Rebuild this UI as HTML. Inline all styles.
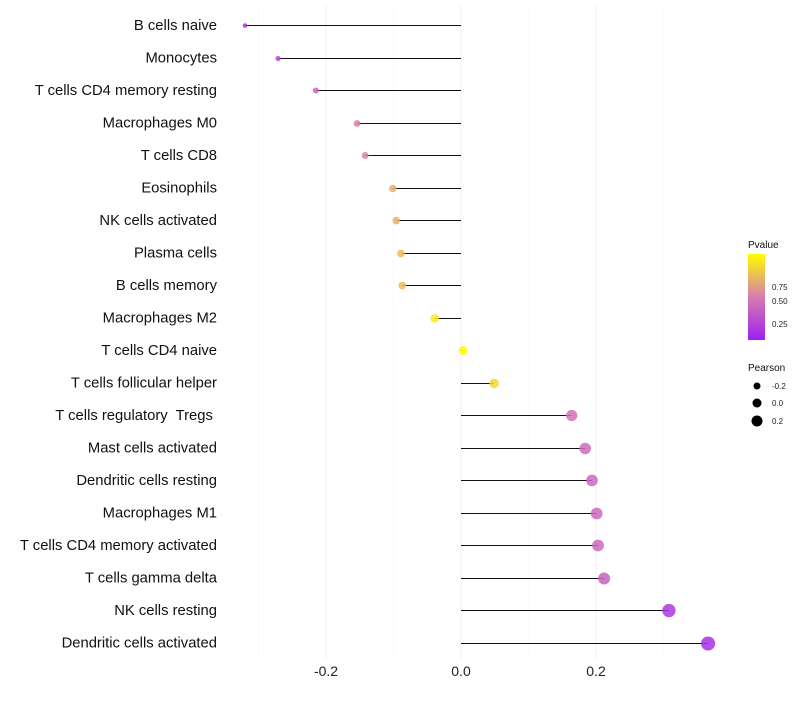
<!DOCTYPE html>
<html><head><meta charset="utf-8"><style>
body{margin:0;background:#fff;font-family:"Liberation Sans",sans-serif}
text{white-space:pre}
</style></head><body>
<svg id="chart" width="800" height="700" xmlns="http://www.w3.org/2000/svg"></svg>
<script>
const categories=["B cells naive","Monocytes","T cells CD4 memory resting","Macrophages M0","T cells CD8","Eosinophils","NK cells activated","Plasma cells","B cells memory","Macrophages M2","T cells CD4 naive","T cells follicular helper","T cells regulatory  Tregs ","Mast cells activated","Dendritic cells resting","Macrophages M1","T cells CD4 memory activated","T cells gamma delta","NK cells resting","Dendritic cells activated"];
const pearson=[-0.32,-0.271,-0.215,-0.154,-0.142,-0.101,-0.096,-0.089,-0.087,-0.039,0.003,0.049,0.164,0.184,0.194,0.201,0.203,0.212,0.308,0.366];
const pvalues=[0.08,0.22,0.38,0.52,0.55,0.7,0.7,0.75,0.75,0.92,0.99,0.85,0.45,0.42,0.4,0.4,0.4,0.36,0.12,0.08];
const xTicks=[-0.2,0.0,0.2];
const xTickLabels=["-0.2","0.0","0.2"];
const svg=document.getElementById('chart');
const NS="http://www.w3.org/2000/svg";
const x=v=>461+v*675;
const y=i=>25+i*32.5;
const rad=v=>4.5+v*7;
function mix(a,b,t){return a.map((c,i)=>Math.round(c+(b[i]-c)*t));}
function col(p){const s=[[160,32,240],[214,124,176],[255,255,0]];let c=p<0.5?mix(s[0],s[1],p/0.5):mix(s[1],s[2],(p-0.5)/0.5);return `rgb(${c})`;}
function el(t,a,txt){const e=document.createElementNS(NS,t);for(const k in a)e.setAttribute(k,a[k]);if(txt!=null)e.textContent=txt;svg.appendChild(e);return e;}
[-0.3,-0.1,0.1,0.3].forEach(v=>{const g=el('line',{x1:x(v),x2:x(v),y1:5,y2:660,stroke:'#f7f7f7','stroke-width':0.6});

});
xTicks.forEach((v,i)=>{const g=el('line',{x1:x(v),x2:x(v),y1:5,y2:660,stroke:'#f0f0f0','stroke-width':1});


const t=el('text',{x:x(v),y:676,'text-anchor':'middle','font-size':14,fill:'#222'},xTickLabels[i]);

});
categories.forEach((c,i)=>{const t=el('text',{x:217,y:y(i)+5,'text-anchor':'end','font-size':14.8,fill:'#111'},c);


const ly=Math.round(y(i))+0.5;
const l=el('line',{x1:x(0),x2:x(pearson[i]),y1:ly,y2:ly,stroke:'#111','stroke-width':1});


const p=el('circle',{cx:x(pearson[i]),cy:ly,r:rad(pearson[i]),fill:col(pvalues[i]),'fill-opacity':0.85});

});
const defs=el('defs',{});
defs.innerHTML='<linearGradient id="pg" x1="0" y1="1" x2="0" y2="0"><stop offset="0" stop-color="rgb(160,32,240)"/><stop offset="0.5" stop-color="rgb(214,124,176)"/><stop offset="1" stop-color="rgb(255,255,0)"/></linearGradient>';
const lt=el('text',{x:748,y:248,'font-size':10,fill:'#111'},'Pvalue');


const bar=el('rect',{x:748,y:254,width:17,height:86,fill:'url(#pg)'});


[[0.75,287],[0.5,301],[0.25,324]].forEach(([v,py])=>{const t=el('text',{x:772,y:py+3,'font-size':8,fill:'#222'},v.toFixed(2));

});
const pt=el('text',{x:748,y:371,'font-size':10,fill:'#111'},'Pearson');


[[-0.2,386],[0,403],[0.2,421]].forEach(([v,py])=>{const c=el('circle',{cx:757,cy:py,r:4.5+v*5,fill:'#000'});


const t=el('text',{x:772,y:py+3,'font-size':8,fill:'#222'},v.toFixed(1));

});
</script>
</body></html>
